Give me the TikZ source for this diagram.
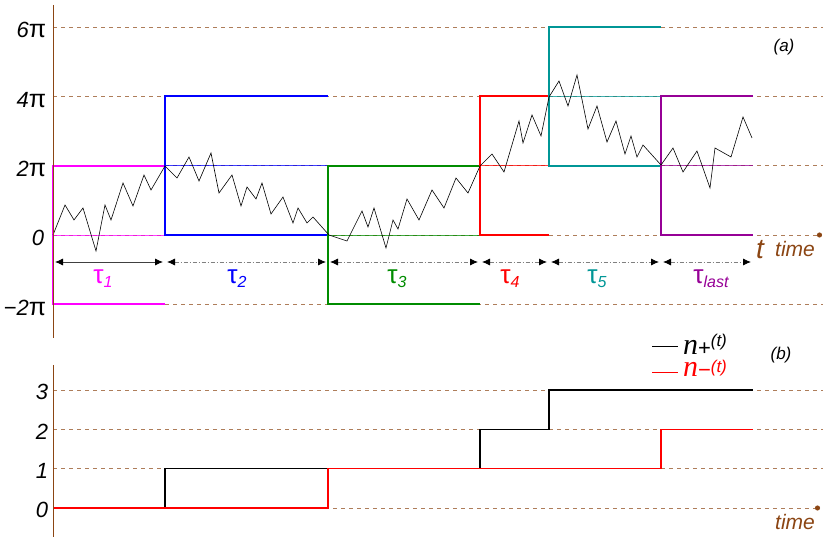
\documentclass[tikz,border=0pt]{standalone}
\usepackage[svgnames]{xcolor}
\usepackage{fontspec}
\setmainfont{Liberation Sans}
\newfontfamily\legfont{Liberation Serif}
\usepackage{tikz}
\usetikzlibrary{arrows.meta}
\definecolor{axBrown}{RGB}{139,69,19}
\definecolor{cbMagenta}{RGB}{255,0,255}
\definecolor{cbBlue}{RGB}{0,0,255}
\definecolor{cbGreen}{RGB}{0,140,0}
\definecolor{cbRed}{RGB}{255,0,0}
\definecolor{cbTeal}{RGB}{0,150,150}
\definecolor{cbPurple}{RGB}{150,0,150}

\newcommand{\taulbl}[1]{{\fontsize{26}{26}\selectfont\upshape τ}\raisebox{-4pt}{\fontsize{16}{16}\selectfont\itshape #1}}
\newcommand{\pilbl}[1]{#1{\fontsize{25}{25}\selectfont\upshape π}}
\newcommand{\nlbl}[2]{{\fontsize{30}{30}\selectfont\legfont\itshape n}\raisebox{-1pt}{\fontsize{22}{22}\selectfont #1}\raisebox{#2}{\fontsize{17}{17}\selectfont\itshape (t)}}

\begin{document}
\begin{tikzpicture}[x=1pt, y=-1pt]%
  \tikzset{grid line/.style={draw, axBrown!70, dash pattern=on 4pt off 4pt, line width=0.8pt}}
  \tikzset{box line/.style={draw, line width=1.7pt}}
  \tikzset{mid line/.style={draw, line width=0.8pt, opacity=0.75}}
  \tikzset{tau arrow/.style={draw, {Latex[length=8pt,width=7pt,color=black]}-{Latex[length=8pt,width=7pt,color=black]}, gray, line width=0.8pt, dash pattern=on 4pt off 2pt on 1pt off 2pt, shorten <=2pt, shorten >=2pt}}
  \tikzset{time axis/.style={grid line, -{Circle[length=5pt,color=axBrown]}}}
  \tikzstyle{every node}=[inner sep=0pt, outer sep=0pt, font=\fontsize{22}{22}\selectfont\itshape]
  \useasboundingbox (0,0) rectangle (823,537);

  % levels (a)
  \def\ySix{27} \def\yFour{96.3} \def\yTwo{165.7} \def\yZero{235} \def\yMTwo{304.3}
  % levels (b)
  \def\nThree{390} \def\nTwo{429.3} \def\nOne{468.7} \def\nZero{508}

  \foreach \yy in {\ySix,\yFour,\yTwo,\yMTwo,\nThree,\nTwo,\nOne}
    \path[grid line] (53,\yy) -- (823,\yy);
  \coordinate (tEnd) at (822,\yZero);
  \coordinate (nEnd) at (820,\nZero);
  \path[time axis] (53,\yZero) -- (tEnd);
  \path[time axis] (53,\nZero) -- (nEnd);

  % windows of the phase
  \path[mid line, cbMagenta] (53,\yZero) -- (165,\yZero);
  \path[mid line, cbBlue] (165,\yTwo) -- (328,\yTwo);
  \path[mid line, cbGreen] (328,\yZero) -- (480,\yZero);
  \path[mid line, cbRed] (480,\yTwo) -- (549,\yTwo);
  \path[mid line, cbTeal] (549,\yFour) -- (661,\yFour);
  \path[mid line, cbPurple] (661,\yTwo) -- (753,\yTwo);

  \path[box line, cbMagenta] (165,\yTwo) -- (53,\yTwo) -- (53,\yMTwo) -- (165,\yMTwo);
  \path[box line, cbBlue] (328,\yFour) -- (165,\yFour) -- (165,\yZero) -- (328,\yZero);
  \path[box line, cbGreen] (480,\yTwo) -- (328,\yTwo) -- (328,\yMTwo) -- (480,\yMTwo);
  \path[box line, cbRed] (549,\yFour) -- (480,\yFour) -- (480,\yZero) -- (549,\yZero);
  \path[box line, cbTeal] (661,\ySix) -- (549,\ySix) -- (549,\yTwo) -- (661,\yTwo);
  \path[box line, cbPurple] (753,\yFour) -- (661,\yFour) -- (661,\yZero) -- (753,\yZero);

  % phase walk
  \draw[black, line width=0.6pt] (53,235) -- (65,205) -- (74,220) -- (83,208) -- (96,251) -- (105,205) -- (111,220) -- (123,183) -- (133,206) -- (144,175) -- (151,190) -- (165,166) -- (177,178) -- (189,157) -- (199,181) -- (211,153) -- (219,193) -- (232,175) -- (241,206) -- (247,187) -- (256,199) -- (262,183) -- (271,214) -- (283,197) -- (293,223) -- (298,208) -- (307,223) -- (313,217) -- (329,235) -- (347,241) -- (362,211) -- (368,227) -- (374,208) -- (386,248) -- (393,220) -- (398,229) -- (407,199) -- (419,220) -- (432,190) -- (444,208) -- (456,178) -- (468,193) -- (480,166) -- (492,154) -- (504,172) -- (519,121) -- (523,143) -- (532,115) -- (541,136) -- (549,97) -- (559,81) -- (568,106) -- (577,75) -- (588,129) -- (597,106) -- (607,142) -- (616,121) -- (625,154) -- (631,136) -- (637,157) -- (643,145) -- (661,165) -- (673,148) -- (683,172) -- (697,151) -- (710,188) -- (715,148) -- (731,157) -- (743,117) -- (752,138);

  % counters
  \draw[black, line width=1.3pt] (53,\nZero) -- (165,\nZero) -- (165,\nOne) -- (480,\nOne) -- (480,\nTwo) -- (549,\nTwo) -- (549,\nThree) -- (753,\nThree);
  \draw[cbRed, line width=1.3pt] (53,\nZero) -- (328,\nZero) -- (328,\nOne) -- (661,\nOne) -- (661,\nTwo) -- (753,\nTwo);

  \draw[axBrown, line width=1pt] (53,5) -- (53,338);
  \draw[axBrown, line width=1pt] (53,365) -- (53,537);

  % durations
  \coordinate (t0) at (53,262);
  \coordinate (t1) at (165,262);
  \coordinate (t2) at (328,262);
  \coordinate (t3) at (480,262);
  \coordinate (t4) at (549,262);
  \coordinate (t5) at (661,262);
  \coordinate (t6) at (753,262);
  \draw[tau arrow, solid, darkgray] (t0) -- (t1);
  \draw[tau arrow] (t1) -- (t2);
  \draw[tau arrow] (t2) -- (t3);
  \draw[tau arrow] (t3) -- (t4);
  \draw[tau arrow] (t4) -- (t5);
  \draw[tau arrow] (t5) -- (t6);

  \node[text=cbMagenta, anchor=base] (tau1) at (103,284) {\taulbl{1}};
  \node[text=cbBlue, anchor=base] (tau2) at (237,284) {\taulbl{2}};
  \node[text=cbGreen, anchor=base] (tau3) at (397,284) {\taulbl{3}};
  \node[text=cbRed, anchor=base] (tau4) at (510,284) {\taulbl{4}};
  \node[text=cbTeal, anchor=base] (tau5) at (597,284) {\taulbl{5}};
  \node[text=cbPurple, anchor=base] (taulast) at (711,284) {\taulbl{last}};

  % axis labels
  \node[anchor=base east] (l6) at (46,\ySix+11) {\pilbl{6}};
  \node[anchor=base east] (l4) at (46,\yFour+11) {\pilbl{4}};
  \node[anchor=base east] (l2) at (46,\yTwo+11) {\pilbl{2}};
  \node[anchor=base east] (l0) at (44,\yZero+11) {0};
  \node[anchor=base east] (lm2) at (46,\yMTwo+11) {\pilbl{−2}};
  \node[anchor=base east] (n3) at (48,\nThree+10) {3};
  \node[anchor=base east] (n2) at (48,\nTwo+10) {2};
  \node[anchor=base east] (n1) at (48,\nOne+10) {1};
  \node[anchor=base east] (n0) at (48,\nZero+10) {0};

  \node[text=axBrown, font=\fontsize{28}{28}\selectfont\itshape] (tlbl) at (760,250) {t};
  \node[text=axBrown, font=\fontsize{21}{21}\selectfont\itshape] (time1) at (795,249) {time};
  \node[text=axBrown, font=\fontsize{21}{21}\selectfont\itshape] (time2) at (795,522) {time};
  \node[font=\fontsize{17}{17}\selectfont\itshape] (pa) at (784,47) {(a)};
  \node[font=\fontsize{17}{17}\selectfont\itshape] (pb) at (781,355) {(b)};

  % legend
  \coordinate (lgA) at (652,346);
  \coordinate (lgB) at (678,346);
  \coordinate (lgC) at (652,372);
  \coordinate (lgD) at (678,372);
  \draw[black, line width=0.8pt] (lgA) -- (lgB);
  \draw[cbRed, line width=0.8pt] (lgC) -- (lgD);
  \node[anchor=north west, align=left, font=\fontsize{20}{22}\selectfont\upshape] (legend) at (683,334) {\nlbl{+}{8pt}\\\textcolor{cbRed}{\nlbl{−}{4pt}}};
\end{tikzpicture}
\end{document}
